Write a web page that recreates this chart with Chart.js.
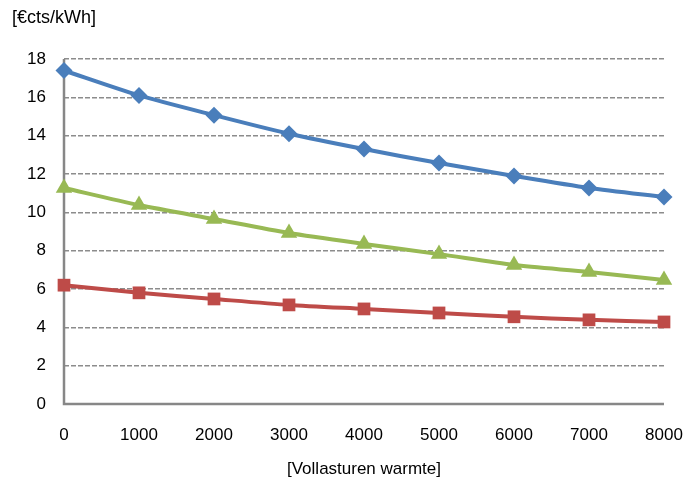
<!DOCTYPE html>
<html lang="nl">
<head>
    <meta charset="UTF-8">
    <title>Kosten per kWh</title>
    <script src="https://cdn.jsdelivr.net/npm/chart.js"></script>
    <style>
        body { margin: 0; background: #ffffff; }
        #chart { display: block; }
    </style>
</head>
<body>
    <canvas id="chart" width="688" height="484"></canvas>

    <script>
        // data
        var uren = [0, 1000, 2000, 3000, 4000, 5000, 6000, 7000, 8000];
        var reeksBlauw = [17.4, 16.1, 15.07, 14.1, 13.3, 12.57, 11.9, 11.27, 10.8];
        var reeksGroen = [11.27, 10.38, 9.65, 8.92, 8.35, 7.82, 7.25, 6.89, 6.47];
        var reeksRood = [6.2, 5.8, 5.48, 5.17, 4.96, 4.75, 4.55, 4.39, 4.28];
        var yTicks = [0, 2, 4, 6, 8, 10, 12, 14, 16, 18];
        var yTitel = '[€cts/kWh]';
        var xTitel = '[Vollasturen warmte]';

        var lettertype = '"Liberation Sans", Arial, sans-serif';

        function punten(reeks) {
            return uren.map(function (u, i) { return { x: u, y: reeks[i] }; });
        }

        function lijn(reeks, kleur, vorm, straal) {
            return {
                data: punten(reeks),
                borderColor: kleur,
                backgroundColor: kleur,
                borderWidth: 4,
                tension: 0.25,
                clip: false,
                pointStyle: vorm,
                pointRadius: straal,
                pointHoverRadius: straal,
                pointBorderWidth: 0,
                fill: false
            };
        }

        // solid axis lines behind the series, y-axis title top left
        var extraPlugin = {
            id: 'extra',
            beforeDatasetsDraw: function (chart) {
                var ctx = chart.ctx;
                var a = chart.chartArea;
                ctx.save();
                ctx.strokeStyle = '#878787';
                ctx.lineWidth = 2.5;
                ctx.setLineDash([]);
                ctx.beginPath();
                ctx.moveTo(a.left, a.top);
                ctx.lineTo(a.left, a.bottom);
                ctx.lineTo(a.right, a.bottom);
                ctx.stroke();
                ctx.restore();
            },
            afterDraw: function (chart) {
                var ctx = chart.ctx;
                ctx.save();
                ctx.font = '18px ' + lettertype;
                ctx.fillStyle = '#000';
                ctx.textAlign = 'left';
                ctx.textBaseline = 'middle';
                ctx.fillText(yTitel, 12, 18);
                ctx.restore();
            }
        };

        var ctx = document.getElementById('chart').getContext('2d');
        new Chart(ctx, {
            type: 'line',
            data: {
                datasets: [
                    lijn(reeksBlauw, '#4a7ebb', 'rectRot', 8.5),
                    lijn(reeksRood, '#be4b48', 'rect', 9),
                    lijn(reeksGroen, '#98b954', 'triangle', 9.5)
                ]
            },
            options: {
                responsive: false,
                animation: false,
                layout: { padding: { top: 59, right: 0, left: 0, bottom: 0 } },
                plugins: {
                    legend: { display: false },
                    tooltip: { enabled: false }
                },
                scales: {
                    x: {
                        type: 'linear',
                        min: 0,
                        max: 8000,
                        ticks: {
                            stepSize: 1000,
                            color: '#000',
                            padding: 21,
                            maxRotation: 0,
                            callback: function (v) { return String(v); },
                            font: { family: lettertype, size: 17 }
                        },
                        grid: { display: false, drawTicks: false },
                        border: { display: false },
                        title: {
                            display: true,
                            text: xTitel,
                            color: '#000',
                            padding: { top: 14 },
                            font: { family: lettertype, size: 17 }
                        },
                        afterFit: function (scale) {
                            scale.height = 80;
                            scale.paddingRight = 24;
                            scale.paddingLeft = 0;
                        }
                    },
                    y: {
                        min: 0,
                        max: 18,
                        afterBuildTicks: function (scale) {
                            scale.ticks = yTicks.map(function (v) { return { value: v }; });
                        },
                        ticks: {
                            color: '#000',
                            padding: 18,
                            font: { family: lettertype, size: 17 }
                        },
                        grid: {
                            color: function (c) { return c.tick.value === 0 ? 'rgba(0,0,0,0)' : '#8c8c8c'; },
                            lineWidth: 1.5,
                            drawTicks: false
                        },
                        border: { display: false, dash: [5, 2] },
                        afterFit: function (scale) { scale.width = 64; }
                    }
                }
            },
            plugins: [extraPlugin]
        });
    </script>
</body>
</html>
